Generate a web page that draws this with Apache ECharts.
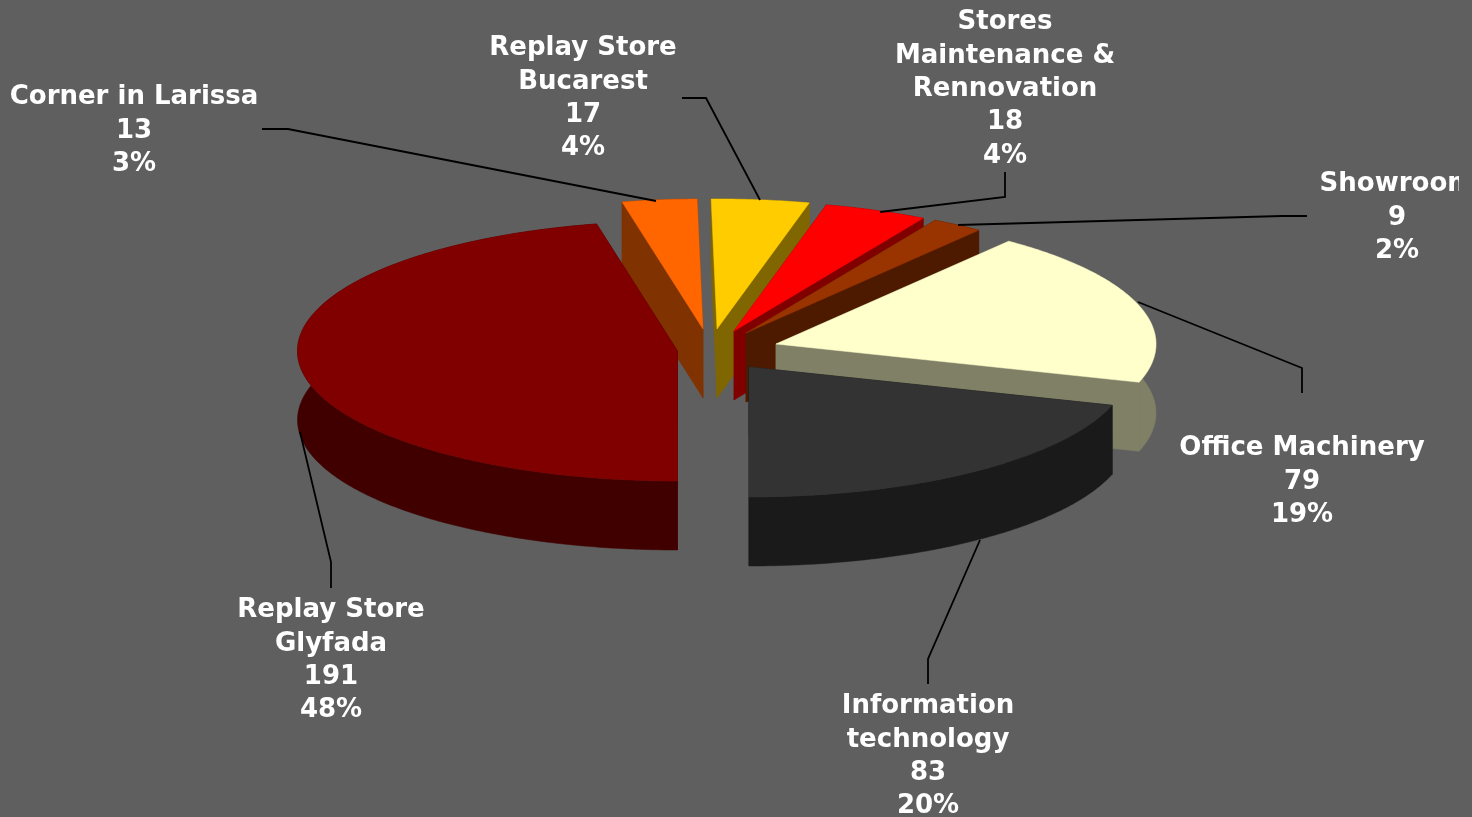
<!DOCTYPE html>
<html>
<head>
<meta charset="utf-8">
<script src="https://cdn.jsdelivr.net/npm/echarts@6/dist/echarts.min.js"></script>
<style>html,body{margin:0;padding:0;background:#5f5f5f}#c{width:1472px;height:817px}</style>
</head>
<body>
<div id="c"></div>
<script>
// Data, in the pie's clockwise order, starting at the front (6 o'clock)
const categories = ['Replay Store\nGlyfada', 'Corner in Larissa', 'Replay Store\nBucarest', 'Stores\nMaintenance &\nRennovation', 'Showroom', 'Office Machinery', 'Information\ntechnology'];
const values = [191, 13, 17, 18, 9, 79, 83];
const percents = [48, 3, 4, 4, 2, 19, 20];

// Layout and style, per slice
const apexes = [[677.5,351],[703,329],[717,329],[734,331],[746,333],[776,344],[749,367]];
const topColors = ['#800000','#ff6600','#ffcc00','#ff0000','#993300','#ffffcc','#333333'];
const wallColors = ['#400000','#803300','#806600','#800000','#4d1a00','#808066','#1a1a1a'];
const labelPos = [[331,594],[134,81],[583,32],[1005,6],[1397,168],[1302,432],[928,690]];
const leaders = [
  [[331,588],[331,562],[300,432]],
  [[262,129],[288,129],[656,201]],
  [[682,98],[706,98],[760,200]],
  [[1005,172],[1005,197],[880,212]],
  [[1307,216],[1282,216],[958,225]],
  [[1302,393],[1302,368],[1138,302]],
  [[928,684],[928,659],[980,540]]
];
const drawOrder = [1,2,3,4,5,0,6];
const RX = 380, RY = 130, H = 69;

const total = values.reduce((a,b)=>a+b,0);
const startAngles = [];
let acc = Math.PI;
values.forEach(v => { startAngles.push(acc); acc += v/total*Math.PI*2; });

function pt(i, t, dy){
  const a = apexes[i];
  return [a[0] + RX*Math.sin(t), a[1] - RY*Math.cos(t) + (dy||0)];
}
function arc(i, t0, t1, dy){
  const n = Math.max(2, Math.ceil(Math.abs(t1-t0)/0.01));
  const out = [];
  for(let k=0;k<=n;k++) out.push(pt(i, t0+(t1-t0)*k/n, dy));
  return out;
}
function poly(points, color, z2){
  return {type:'polygon', z2, shape:{points}, style:{fill:color, stroke:color, lineWidth:0.5}, silent:true};
}
function renderItem(params, api){
  const i = api.value(0);
  const order = drawOrder.indexOf(i);
  const t0 = startAngles[i], t1 = t0 + values[i]/total*Math.PI*2;
  const a = apexes[i];
  const wall = wallColors[i];
  const base = order*10;
  const children = [];
  // cut faces
  [t0,t1].forEach(t=>{
    const r = pt(i,t), rb = pt(i,t,H);
    children.push(poly([a,r,rb,[a[0],a[1]+H]], wall, base+1));
  });
  // rim wall
  const top = arc(i,t0,t1), bot = arc(i,t0,t1,H).reverse();
  children.push(poly(top.concat(bot), wall, base+2));
  // top face
  children.push(poly([a].concat(arc(i,t0,t1)), topColors[i], base+3));
  return {type:'group', children};
}
function renderLabels(params, api){
  const i = api.value(0);
  const children = [];
  children.push({type:'polyline', z2:200, silent:true, shape:{points:leaders[i]}, style:{fill:null, stroke:'#000', lineWidth:1.8}});
  const text = {type:'text', z2:210, silent:true, style:{
    text: categories[i]+'\n'+values[i]+'\n'+percents[i]+'%',
    x: labelPos[i][0], y: labelPos[i][1], align:'center', verticalAlign:'top',
    fill:'#fff', font:'bold 26px "DejaVu Sans"', lineHeight:33.3
  }};
  if(i===4) text.clipPath = {type:'rect', shape:{x:1200,y:150,width:259,height:130}};
  children.push(text);
  return {type:'group', children};
}
const ids = drawOrder.map(i=>[i]);
const chart = echarts.init(document.getElementById('c'), null, {renderer:'canvas'});
chart.setOption({
  animation:false,
  backgroundColor:'#5f5f5f',
  series:[
    {type:'custom', coordinateSystem:'none', renderItem, data:ids, silent:true, clip:false, z:2},
    {type:'custom', coordinateSystem:'none', renderItem:renderLabels, data:ids, silent:true, clip:false, z:3}
  ]
});
</script>
</body>
</html>
